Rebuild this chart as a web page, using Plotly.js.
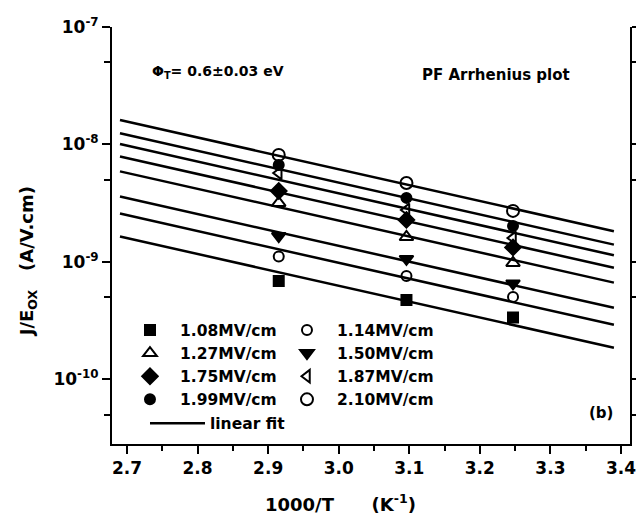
<!DOCTYPE html>
<html>
<head>
<meta charset="utf-8">
<script src="https://cdn.plot.ly/plotly-3.0.1.min.js"></script>
<style>body{margin:0;padding:0;background:#fff;}#chart{width:636px;height:520px;}</style>
</head>
<body>
<div id="chart"></div>
<script>
// ---- data ----
const invT = [2.915, 3.096, 3.247];           // 1000/T (K^-1)
const fields = ['1.08MV/cm','1.14MV/cm','1.27MV/cm','1.50MV/cm','1.75MV/cm','1.87MV/cm','1.99MV/cm','2.10MV/cm'];
const j108 = [6.89e-10, 4.75e-10, 3.37e-10];
const j114 = [1.11e-9, 7.60e-10, 5.04e-10];
const j127 = [3.18e-9, 1.63e-9, 9.80e-10];
const j150 = [1.66e-9, 1.06e-9, 6.56e-10];
const j175 = [4.02e-9, 2.28e-9, 1.33e-9];
const j187 = [5.71e-9, 2.77e-9, 1.60e-9];
const j199 = [6.70e-9, 3.51e-9, 2.02e-9];
const j210 = [8.15e-9, 4.70e-9, 2.72e-9];
const fitRange = [2.69, 3.39];                // extent of the linear-fit lines
const xTickVals = [2.7, 2.8, 2.9, 3.0, 3.1, 3.2, 3.3, 3.4];
const yTickVals = [1e-10, 1e-9, 1e-8, 1e-7];
const yTickText = ['10<sup>-10</sup>', '10<sup>-9</sup>', '10<sup>-8</sup>', '10<sup>-7</sup>'];
const yMinorVals = [5e-11, 5e-10, 5e-9, 5e-8];

const series = [j108, j114, j127, j150, j175, j187, j199, j210];
const symbols = ['square','circle-open','triangle-up-open','triangle-down','diamond','triangle-left-open','circle','circle-open'];
const sizes   = [10, 10, 12, 12, 12, 11, 10, 12];
const legendOf = ['legend','legend2','legend','legend2','legend','legend2','legend','legend2'];

// common-slope least squares fit in log10(J/E) vs 1000/T
const xm = invT.reduce((a,b)=>a+b,0)/invT.length;
let num = 0, den = 0;
const means = series.map(s => {
  const l = s.map(v => Math.log10(v));
  const m = l.reduce((a,b)=>a+b,0)/l.length;
  l.forEach((v,i) => { num += (invT[i]-xm)*(v-m); den += (invT[i]-xm)*(invT[i]-xm); });
  return m;
});
const slope = num/den;

const FONT = 'DejaVu Sans';
const traces = [];
series.forEach((s, k) => {
  traces.push({
    x: fitRange, y: fitRange.map(x => Math.pow(10, means[k] + slope*(x - xm))),
    mode: 'lines', line: {color: '#000', width: 2.5},
    name: 'linear fit', showlegend: k === 0, legend: 'legend3',
    hoverinfo: 'skip'
  });
});
series.forEach((s, k) => {
  traces.push({
    x: invT, y: s, mode: 'lines+markers', name: fields[k], legend: legendOf[k], legendrank: k,
    line: {width: 0, color: 'rgba(0,0,0,0)'},
    marker: {symbol: symbols[k], size: sizes[k], color: '#000', line: {color: '#000', width: 2}}
  });
});

const legStyle = {
  bgcolor: 'rgba(0,0,0,0)', borderwidth: 0, yanchor: 'top', xanchor: 'left',
  font: {family: FONT, size: 15.5, color: '#000', weight: 'bold'},
  tracegroupgap: 0, itemwidth: 50, traceorder: 'normal'
};

const layout = {
  width: 636, height: 520,
  margin: {l: 112, r: 6, t: 27, b: 76},
  paper_bgcolor: '#fff', plot_bgcolor: '#fff',
  showlegend: true,
  font: {family: FONT, color: '#000'},
  xaxis: {
    range: [2.6787, 3.4128], tickvals: xTickVals, tickformat: '.1f',
    ticks: 'outside', ticklen: 8, tickwidth: 2, tickcolor: '#000',
    showline: true, linewidth: 2, linecolor: '#000', showgrid: false, zeroline: false,
    ticklabeloverflow: 'allow',
    tickfont: {family: FONT, size: 17, weight: 'bold', color: '#000'},
    minor: {dtick: 0.05, tick0: 2.7, ticks: 'outside', ticklen: 5, tickwidth: 2, tickcolor: '#000', showgrid: false}
  },
  xaxis2: {
    overlaying: 'x', side: 'top', matches: 'x', range: [2.6787, 3.4128], tickvals: xTickVals,
    ticks: 'inside', ticklen: 8, tickwidth: 2, tickcolor: '#000', showticklabels: false,
    showline: true, linewidth: 2, linecolor: '#000', showgrid: false, zeroline: false,
    minor: {dtick: 0.05, tick0: 2.7, ticks: 'inside', ticklen: 5, tickwidth: 2, tickcolor: '#000', showgrid: false}
  },
  yaxis: {
    type: 'log', range: [-10.55, -7],
    tickvals: yTickVals, ticktext: yTickText,
    ticks: 'outside', ticklen: 8, tickwidth: 2, tickcolor: '#000',
    showline: true, linewidth: 2, linecolor: '#000', mirror: 'ticks', showgrid: false, zeroline: false,
    ticklabeloverflow: 'allow',
    tickfont: {family: FONT, size: 17, weight: 'bold', color: '#000'},
    minor: {tickvals: yMinorVals, ticks: 'outside', ticklen: 6, tickwidth: 2, tickcolor: '#000', showgrid: false}
  },
  legend: Object.assign({}, legStyle, {x: 0.0154, y: 0.3134}),
  legend2: Object.assign({}, legStyle, {x: 0.3185, y: 0.3134}),
  legend3: Object.assign({}, legStyle, {x: 0.0637, y: 0.0897, itemwidth: 55}),
  annotations: [
    {text: 'Φ<sub>T</sub>= 0.6±0.03 eV', xref: 'paper', yref: 'paper', x: 0.0734, y: 0.892,
     xanchor: 'left', yanchor: 'middle', showarrow: false, font: {family: FONT, size: 14, color: '#000', weight: 'bold'}},
    {text: 'PF Arrhenius plot', xref: 'paper', yref: 'paper', x: 0.594, y: 0.885,
     xanchor: 'left', yanchor: 'middle', showarrow: false, font: {family: FONT, size: 15, color: '#000', weight: 'bold'}},
    {text: '(b)', xref: 'paper', yref: 'paper', x: 0.944, y: 0.074,
     xanchor: 'center', yanchor: 'middle', showarrow: false, font: {family: FONT, size: 15, color: '#000', weight: 'bold'}},
    {text: '1000/T      (K<sup>-1</sup>)', xref: 'paper', yref: 'paper', x: 0.442, y: -0.1415,
     xanchor: 'center', yanchor: 'middle', showarrow: false, font: {family: FONT, size: 18, color: '#000', weight: 'bold'}},
    {text: 'J/E<sub>OX</sub>   (A/V.cm)', xref: 'paper', yref: 'paper', x: -0.162, y: 0.436,
     xanchor: 'center', yanchor: 'middle', textangle: -90, showarrow: false, font: {family: FONT, size: 18, color: '#000', weight: 'bold'}}
  ]
};

Plotly.newPlot('chart', traces, layout, {displayModeBar: false, staticPlot: true});
</script>
</body>
</html>
